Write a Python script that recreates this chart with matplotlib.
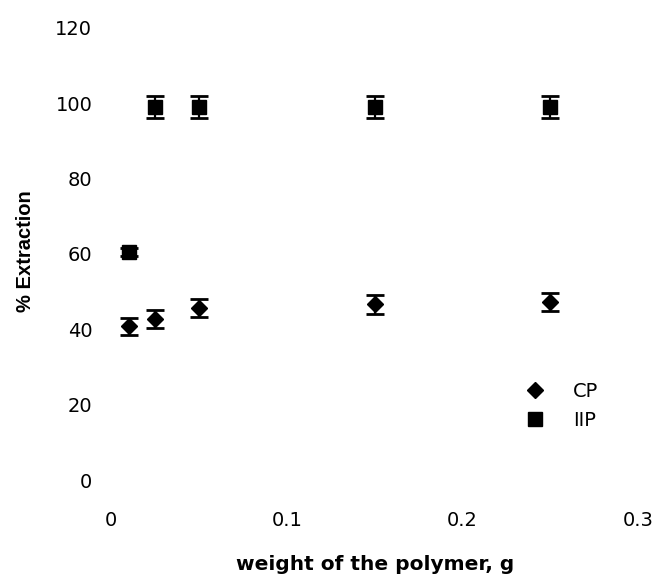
import matplotlib.pyplot as plt

# polymer weight (g) and % extraction with error bars
weight = [0.01, 0.025, 0.05, 0.15, 0.25]
cp_extraction = [40.8, 42.8, 45.7, 46.6, 47.2]
cp_error = [2.2, 2.4, 2.4, 2.5, 2.4]
iip_extraction = [60.5, 99.1, 99.0, 99.0, 99.0]
iip_error = [1.0, 2.9, 3.0, 3.0, 3.0]

plt.rcParams['font.family'] = ['DejaVu Sans']

fig = plt.figure(figsize=(6.58, 5.77), dpi=100)
ax = fig.add_axes([0.1687, 0.1681, 0.801, 0.7834])

# error bars first, markers on top
ax.errorbar(weight, cp_extraction, yerr=cp_error, fmt='none', ecolor='black',
            elinewidth=1.6, capsize=6.5, capthick=2)
ax.errorbar(weight, iip_extraction, yerr=iip_error, fmt='none', ecolor='black',
            elinewidth=1.6, capsize=6.5, capthick=2)
ax.plot(weight, cp_extraction, 'D', color='black', markersize=8, linestyle='none', label='CP')
ax.plot(weight, iip_extraction, 's', color='black', markersize=9.5, linestyle='none', label='IIP')

ax.set_xlim(0, 0.3)
ax.set_ylim(0, 120)
ax.set_xticks([0, 0.1, 0.2, 0.3])
ax.set_xticklabels(['0', '0.1', '0.2', '0.3'])
ax.set_yticks([0, 20, 40, 60, 80, 100, 120])
for s in ax.spines.values():
    s.set_visible(False)
ax.tick_params(axis='x', length=0, pad=22, labelsize=14)
ax.tick_params(axis='y', length=0, pad=13.5, labelsize=14)

ax.set_xlabel('weight of the polymer, g', fontsize=14.5, fontweight='bold')
ax.xaxis.set_label_coords(0.502, -0.166)
ax.set_ylabel('% Extraction', fontsize=14.5, fontweight='bold',
              family=['Liberation Sans', 'DejaVu Sans'])
ax.yaxis.set_label_coords(-0.144, 0.507)

ax.legend(loc='upper left', bbox_to_anchor=(0.753, 0.235), frameon=False,
          fontsize=14, handletextpad=0.95, labelspacing=0.55, borderaxespad=0)

fig.savefig('out.png', dpi=100)
